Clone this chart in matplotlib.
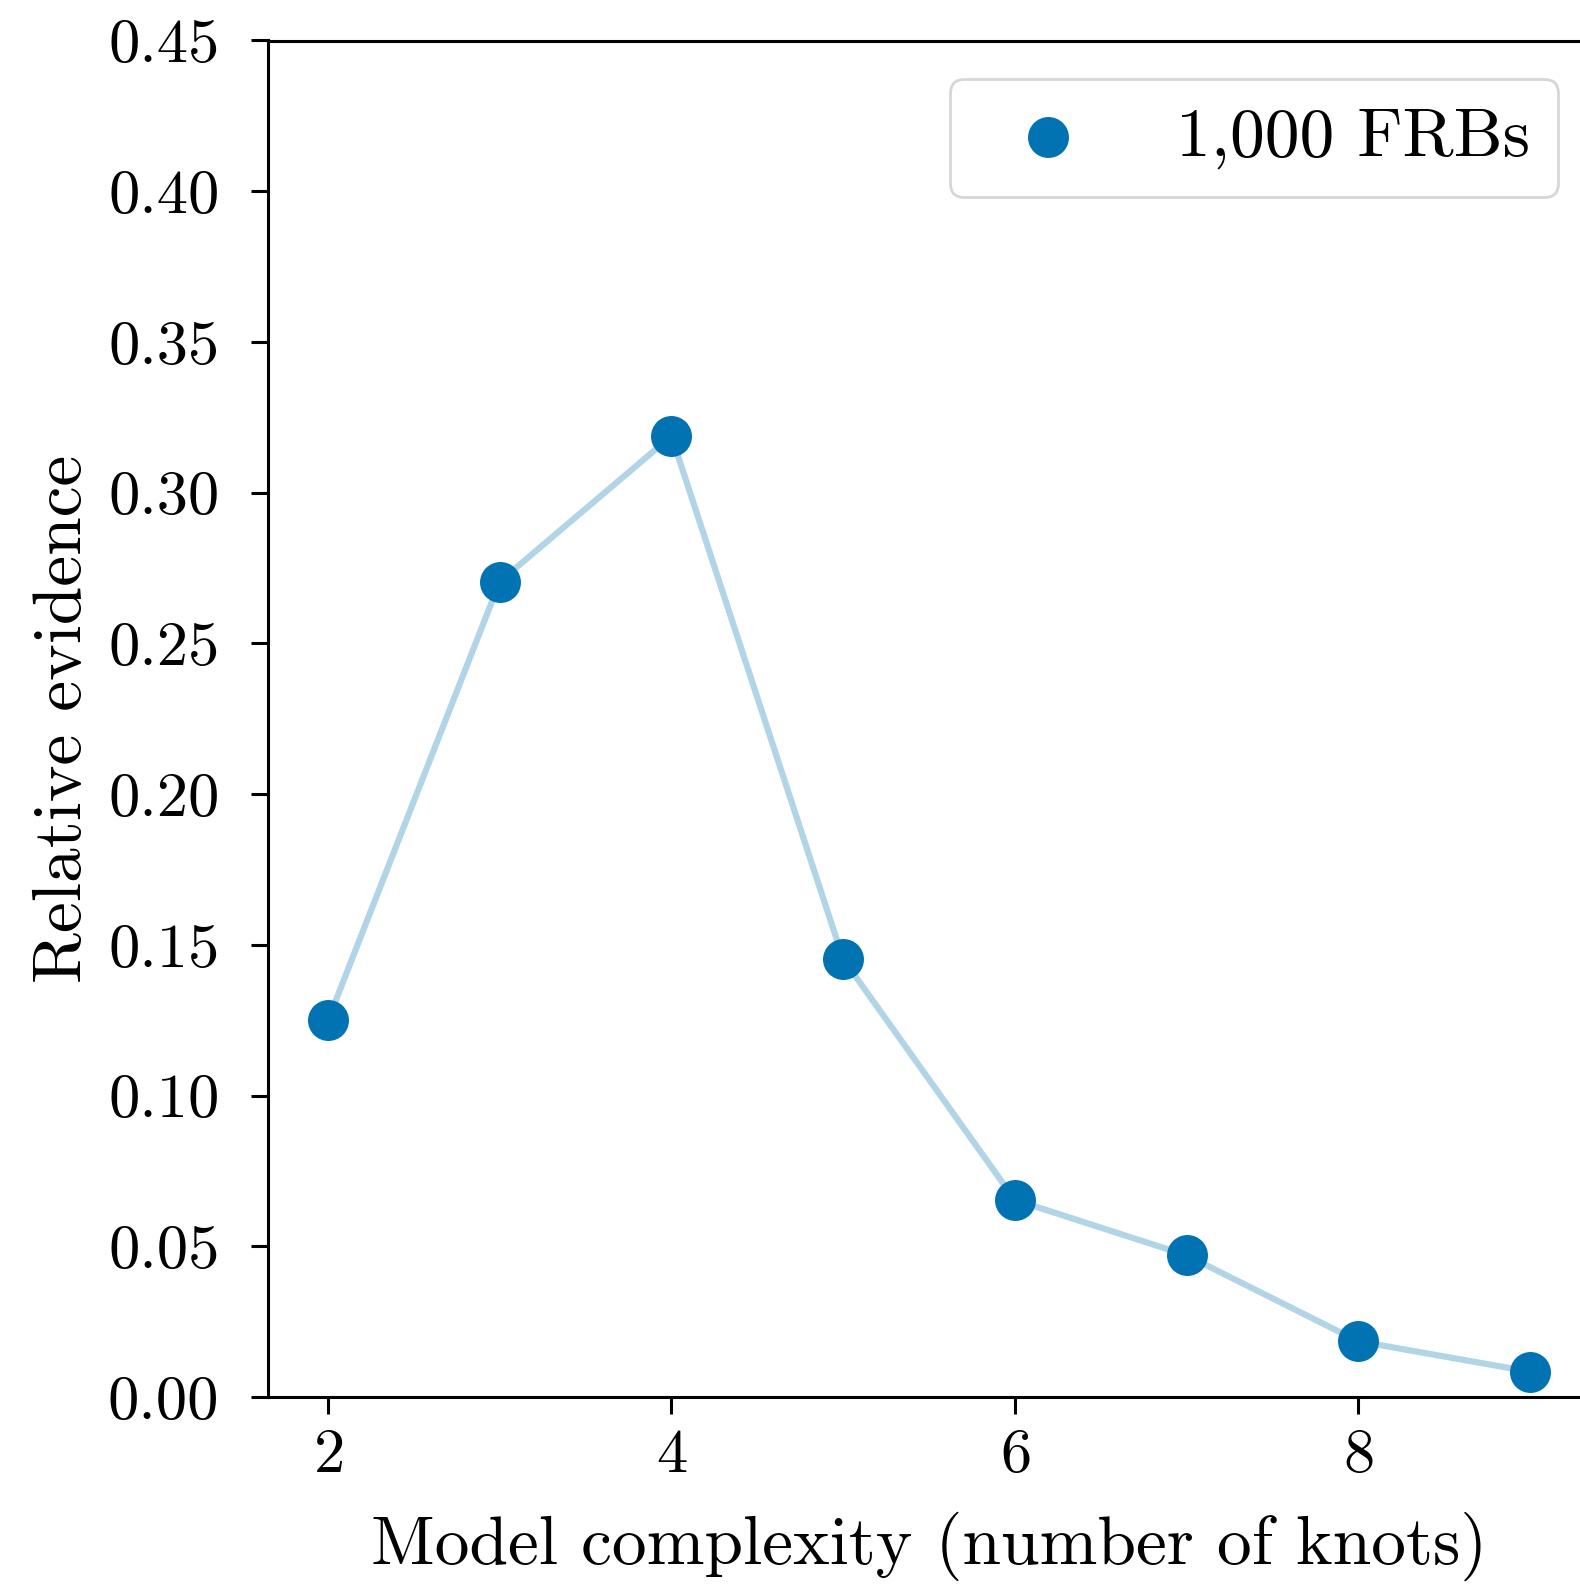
import numpy as np
import matplotlib
matplotlib.use("Agg")
import matplotlib.pyplot as plt

# Relative evidence per number of spline knots
knots = [2, 3, 4, 5, 6, 7, 8, 9]
evidence = [0.125, 0.2705, 0.3188, 0.1453, 0.0654, 0.047, 0.0185, 0.0084]
label = "1,000 FRBs"

plt.rcParams["font.family"] = "cmr10"
plt.rcParams["mathtext.fontset"] = "cm"
plt.rcParams["axes.formatter.use_mathtext"] = True

blue = "#0173b2"

fig = plt.figure(figsize=(15.8, 15.86), dpi=100)
W, H = 1580, 1586
ax = fig.add_axes([268 / W, 1 - 1397 / H, (1590 - 268) / W, (1397 - 40.5) / H])

ax.plot(knots, evidence, color=blue, alpha=0.3, lw=4.5, zorder=2)
ax.scatter(knots, evidence, s=870, color=blue, label=label, zorder=3, linewidths=0)

ax.set_xlim(1.65, 9.35)
ax.set_ylim(0, 0.45)
ax.set_xticks([2, 4, 6, 8])
ax.set_yticks(np.arange(0, 0.451, 0.05))
ax.yaxis.set_major_formatter(matplotlib.ticker.FormatStrFormatter("%.2f"))
ax.tick_params(labelsize=45, width=2.2, length=12)
ax.tick_params(axis="x", pad=11)
ax.tick_params(axis="y", pad=23)
for s in ax.spines.values():
    s.set_linewidth(2.2)

ax.set_xlabel("Model complexity (number of knots)", fontsize=50, labelpad=20)
ax.set_ylabel("Relative evidence", fontsize=50, labelpad=10)

leg = ax.legend(loc="upper right", fontsize=50, bbox_to_anchor=(0.9758, 0.9716),
                borderaxespad=0, handletextpad=0.85, borderpad=0.4,
                frameon=True, fancybox=True)
leg.get_frame().set_edgecolor("#cccccc")
leg.get_frame().set_linewidth(2)

fig.savefig("out.png", dpi=100)
